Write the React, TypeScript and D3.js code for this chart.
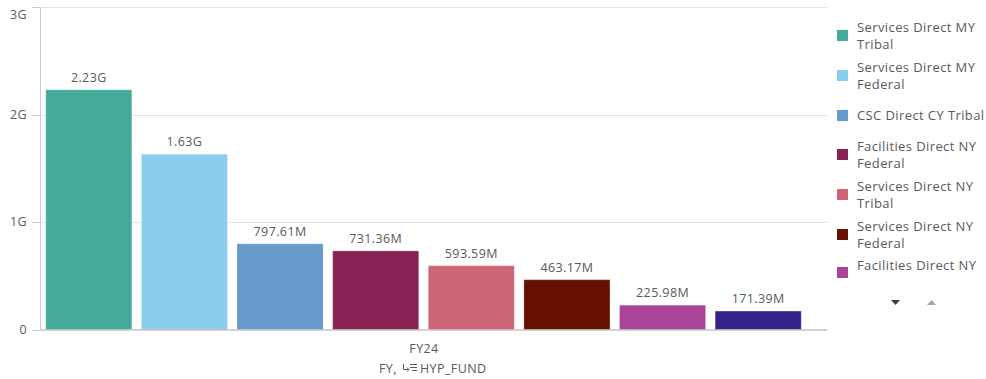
import React from "react";
import * as d3 from "d3";

const categories = [
  "Services Direct MY Tribal",
  "Services Direct MY Federal",
  "CSC Direct CY Tribal",
  "Facilities Direct NY Federal",
  "Services Direct NY Tribal",
  "Services Direct NY Federal",
  "Facilities Direct NY",
  "Facilities Direct NY Tribal",
];
const values = [2.23e9, 1.63e9, 797.61e6, 731.36e6, 593.59e6, 463.17e6, 225.98e6, 171.39e6];
const valueLabels = ["2.23G", "1.63G", "797.61M", "731.36M", "593.59M", "463.17M", "225.98M", "171.39M"];
const colors = ["#44aa99", "#88ccee", "#6699cc", "#882255", "#cc6677", "#661100", "#aa4499", "#332288"];
const yTicks = [0, 1e9, 2e9, 3e9];
const yTickLabels = ["0", "1G", "2G", "3G"];
const legendLines = [
  ["Services Direct MY", "Tribal"],
  ["Services Direct MY", "Federal"],
  ["CSC Direct CY Tribal"],
  ["Facilities Direct NY", "Federal"],
  ["Services Direct NY", "Tribal"],
  ["Services Direct NY", "Federal"],
  ["Facilities Direct NY"],
];
const xLabel = "FY24";

const W = 986;
const H = 379;
const FONT = "'Open Sans', sans-serif";
const TXT = "#595959";
const LS = "0.4px";

export default function App() {
  const x = d3.scaleBand<string>().domain(categories).range([41, 806]).paddingInner(0.1).paddingOuter(0.05);
  const y = d3.scaleLinear().domain([0, 3e9]).range([329.5, 7]);
  const legendY = [27, 67, 115, 146, 186, 226, 265];

  return (
    <svg width={W} height={H} style={{ position: "absolute", left: 0, top: 0, fontFamily: FONT }}>
      {yTicks.map((t, i) => (
        <g key={i}>
          {i > 0 && <line x1={41} x2={827} y1={Math.round(y(t)) + 0.5} y2={Math.round(y(t)) + 0.5} stroke="#e3e3e3" />}
          <line x1={32} x2={41} y1={Math.round(y(t)) + 0.5} y2={Math.round(y(t)) + 0.5} stroke="#cccccc" />
          <text
            x={27}
            y={i === yTicks.length - 1 ? y(t) + 7.5 : y(t)}
            dy="0.35em"
            textAnchor="end"
            fontSize={12.5}
            letterSpacing={LS}
            fill={TXT}
          >
            {yTickLabels[i]}
          </text>
        </g>
      ))}
      <line x1={40.5} x2={40.5} y1={7} y2={330} stroke="#cccccc" />
      {categories.map((c, i) => (
        <g key={c}>
          <rect
            x={x(c)!}
            y={y(values[i])}
            width={x.bandwidth()}
            height={y(0) - y(values[i])}
            fill={colors[i]}
            stroke="rgba(255,255,255,0.25)"
          />
          <text
            x={x(c)! + x.bandwidth() / 2}
            y={y(values[i]) - 8}
            textAnchor="middle"
            fontSize={12.5}
            letterSpacing={LS}
            fill={TXT}
          >
            {valueLabels[i]}
          </text>
        </g>
      ))}
      <line x1={41} x2={827} y1={330} y2={330} stroke="#a6a6a6" />
      <text x={424} y={353} textAnchor="middle" fontSize={12.5} letterSpacing={LS} fill={TXT}>
        {xLabel}
      </text>
      <g fontSize={12.5} fill={TXT} letterSpacing={LS}>
        <text x={379} y={373}>FY,</text>
        <g stroke={TXT} strokeWidth={1} fill="none">
          <path d="M403.5 364 v5.5 h5" />
          <path d="M407 367.5 l2 2 l-2 2" />
          <line x1={410} x2={417} y1={364.5} y2={364.5} />
          <line x1={410} x2={417} y1={367.5} y2={367.5} />
          <line x1={412} x2={417} y1={370.5} y2={370.5} />
        </g>
        <text x={420} y={373}>HYP_FUND</text>
      </g>
      {legendLines.map((lines, i) => {
        const top = legendY[i];
        const sq = lines.length === 2 ? top + 8 : top;
        return (
          <g key={i}>
            <rect x={837} y={(i === 6 ? top + 7 : sq) - 5} width={11} height={11} fill={colors[i]} />
            {lines.map((l, j) => (
              <text key={j} x={857} y={top + j * 17} dy="0.35em" fontSize={13} letterSpacing={LS} fill={TXT}>
                {l}
              </text>
            ))}
          </g>
        );
      })}
      <path d="M891 300 h9 l-4.5 5 z" fill="#404040" />
      <path d="M927 305 h9 l-4.5 -5 z" fill="#a6a6a6" />
    </svg>
  );
}
